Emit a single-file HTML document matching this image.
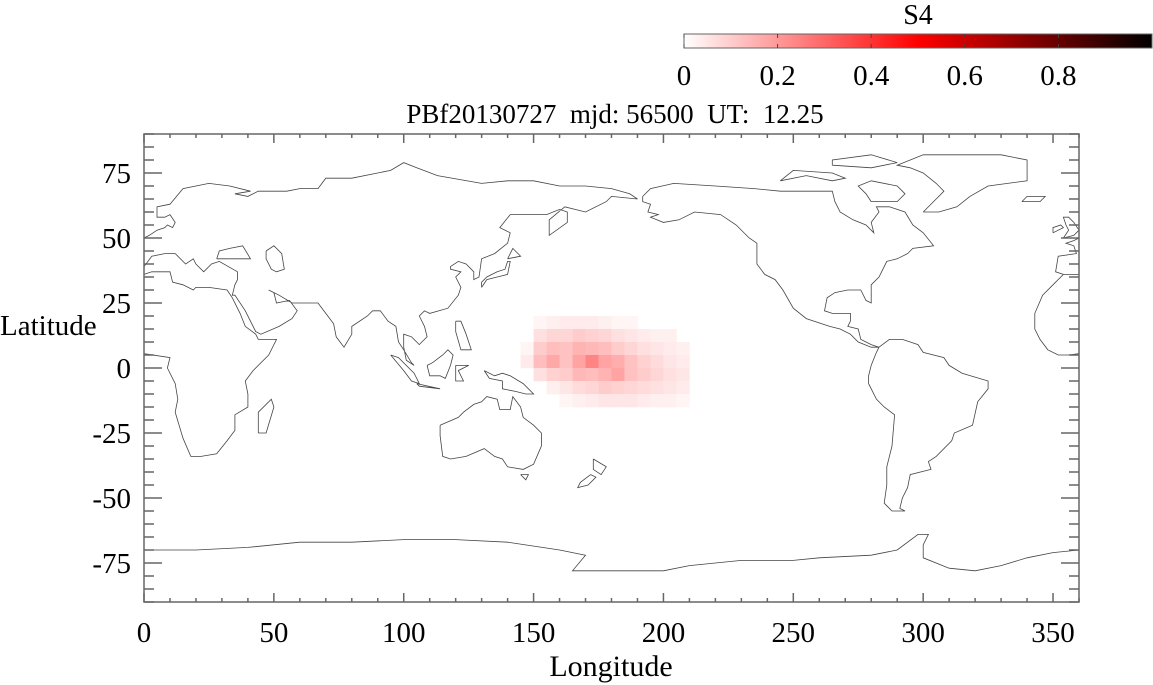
<!DOCTYPE html>
<html><head><meta charset="utf-8"><style>
html,body{margin:0;padding:0;background:#fff;}
svg{display:block;font-family:"Liberation Serif",serif;}
</style></head><body>
<svg id="chart" width="1153" height="685" viewBox="0 0 1153 685" xmlns="http://www.w3.org/2000/svg">
<defs><linearGradient id="cb" x1="0" x2="1" y1="0" y2="0">
<stop offset="0" stop-color="#fff"/><stop offset="0.5" stop-color="#f00"/><stop offset="1" stop-color="#000"/></linearGradient></defs>
<g id="heat"></g>
<g id="coast" fill="none" stroke="#444" stroke-width="0.8"></g>
<g id="axes"></g>
<text x="615" y="123" font-size="27" text-anchor="middle" xml:space="preserve" style="white-space:pre">PBf20130727  mjd: 56500  UT:  12.25</text>
<text x="611" y="676" font-size="30" text-anchor="middle">Longitude</text>
<text x="0" y="335" font-size="29">Latitude</text>
<g>
<rect x="684" y="34" width="468" height="14" fill="url(#cb)" stroke="#666" stroke-width="1"/>
<text x="918" y="24" font-size="28" text-anchor="middle">S4</text>
<g id="cbticks"></g>
</g>
</svg>
<script>
const lonTicks=[0,50,100,150,200,250,300,350];
const latTicks=[75,50,25,0,-25,-50,-75];
const cbTicks=[0,0.2,0.4,0.6,0.8];
const heatLons=[145,150,155,160,165,170,175,180,185,190,195,200,205];
const heatLats=[20,15,10,5,0,-5,-10];
const heatRow0=[0,.02,.03,.04,.04,.04,.03,.02,.02,0,0,0,0];
const heatRow1=[0,.06,.08,.08,.10,.09,.08,.06,.05,.04,.03,.03,0];
const heatRow2=[.02,.10,.13,.12,.15,.14,.13,.10,.08,.06,.05,.04,.03];
const heatRow3=[.04,.13,.17,.12,.18,.24,.18,.16,.12,.09,.07,.05,.04];
const heatRow4=[0,.06,.09,.10,.14,.13,.15,.18,.12,.10,.08,.06,.05];
const heatRow5=[0,0,.03,.05,.07,.08,.10,.09,.08,.07,.06,.05,.04];
const heatRow6=[0,0,0,.02,.03,.04,.05,.05,.05,.04,.03,.03,.02];
const heatRows=[heatRow0,heatRow1,heatRow2,heatRow3,heatRow4,heatRow5,heatRow6];

const NS="http://www.w3.org/2000/svg";
const L=144,R=1079,T=134,B=602;
const sx=v=>L+(v/360)*(R-L);
const sy=v=>T+(90-v)/180*(B-T);
const cbx=v=>684+v*468;
function col(v){v=Math.max(0,Math.min(1,v));let r,g;
 if(v<0.5){r=255;g=Math.round(255*(1-2*v));return `rgb(${r},${g},${g})`;}
 r=Math.round(255*(2-2*v));return `rgb(${r},0,0)`;}
function mk(tag,attrs,parent){const e=document.createElementNS(NS,tag);for(const k in attrs)e.setAttribute(k,attrs[k]);parent.appendChild(e);return e;}

const heat=document.getElementById('heat');
heatRows.forEach((row,i)=>row.forEach((v,j)=>{
 if(v<=0)return;
 const lon=heatLons[j],lat=heatLats[i];
 const r=mk('rect',{x:sx(lon),y:sy(lat),width:sx(lon+5)-sx(lon)+0.3,height:sy(lat-5)-sy(lat)+0.3,fill:col(v)},heat);
 
 
}));

const coasts=[
[[0,5.5],[10,4],[9,0],[12,-6],[13,-12],[12,-17],[15,-27],[18,-34],[22,-34],[28,-33],[32,-28],[35,-24],[35,-18],[40,-15],[40,-10],[39,-5],[42,-1],[48,5],[51,11],[44,11],[43,13],[39,16],[37,21],[34,27],[32,30],[25,31],[20,31],[19,30],[15,32],[11,33],[10,37],[3,37],[0,36]],
[[360,36],[354,36],[350,32],[346,28],[343,21],[343,15],[345,11],[348,7],[352,5],[356,5],[360,5.5]],
[[44,-25],[47,-25],[50,-15],[49,-12],[44,-17],[44,-25]],
[[0,39],[3,43],[8,44],[12,44],[16,40],[19,42],[20,40],[23,37],[26,40],[29,41],[36,37],[36,34],[35,32],[34,28],[35,28],[39,22],[43,14],[45,13],[52,16],[57,19],[59,22],[56,26],[51,25],[50,29],[48,30],[52,28],[57,25],[62,25],[67,25],[70,21],[73,17],[74,12],[77,8],[80,13],[80,16],[86,20],[88,22],[91,22],[94,18],[97,16],[98,10],[100,7],[103,2],[104,1],[101,3],[100,8],[100,13],[103,12],[106,9],[109,12],[108,16],[106,20],[108,22],[110,21],[117,23],[121,28],[122,31],[120,35],[122,37],[118,38],[118,39],[121,41],[124,40],[127,37],[127,34],[129,35],[130,42],[135,44],[140,48],[141,52],[137,54],[141,59],[150,59],[155,59],[160,61],[163,60],[163,56],[156,51],[156,57],[162,62],[170,60],[178,64],[180,66],[190,65],[187,67],[180,69],[170,70],[160,70],[150,72],[140,72],[130,71],[113,74],[105,77],[100,79],[95,76],[80,73],[70,73],[67,69],[60,69],[55,68],[44,68],[40,66],[35,67],[41,68],[33,70],[25,71],[15,69],[10,63],[5,62],[5,58],[8,58],[10,59],[12,56],[11,54],[9,55],[8,54],[5,53],[2,51],[0,50]],
[[360,50],[358,49],[355,48],[358,47],[359,44],[352,43],[351,37],[354,36]],
[[28,42],[29,45],[33,46],[38,47],[41,42],[36,42],[28,42]],
[[47,45],[50,47],[53,44],[54,38],[51,37],[49,38],[47,42],[47,45]],
[[354,50],[358,51],[360,53],[358,56],[356,58],[354,58],[355,55],[356,53],[354,50]],
[[350,52],[354,54],[353,55],[350,54],[350,52]],
[[130,31],[132,34],[136,35],[140,36],[141,41],[140,41],[139,38],[136,37],[132,35],[130,33],[130,31]],
[[140,42],[145,43],[142,46],[140,42]],
[[109,1],[110,-3],[114,-3],[116,-4],[118,1],[119,5],[117,7],[115,5],[111,2],[109,1]],
[[95,5],[98,4],[104,-2],[106,-6],[103,-5],[100,-1],[95,5]],
[[105,-6],[114,-8],[106,-7],[105,-6]],
[[120,1],[125,1],[121,-1],[123,-5],[120,-5],[120,1]],
[[120,18],[122,18],[124,13],[126,7],[122,7],[120,14],[120,18]],
[[131,-1],[135,-3],[138,-2],[141,-3],[146,-6],[148,-8],[150,-10],[147,-10],[143,-9],[138,-8],[138,-5],[133,-4],[131,-1]],
[[114,-22],[114,-26],[115,-34],[118,-35],[124,-34],[131,-31],[135,-34],[138,-35],[140,-38],[146,-39],[150,-37],[153,-30],[153,-25],[150,-22],[146,-19],[145,-15],[142,-11],[141,-16],[137,-16],[136,-12],[132,-11],[130,-13],[127,-14],[123,-17],[121,-19],[114,-22]],
[[145,-41],[148,-41],[147,-43],[145,-41]],
[[173,-35],[178,-38],[176,-41],[173,-39],[173,-35]],
[[172,-41],[174,-42],[171,-45],[167,-46],[168,-44],[172,-41]],
[[192,66],[195,69],[204,71],[220,70],[235,69],[245,68],[255,68],[265,68],[266,64],[268,60],[273,57],[278,55],[281,52],[280,56],[283,60],[282,62],[287,62],[293,60],[296,55],[300,52],[304,47],[296,46],[294,44],[290,42],[286,41],[284,37],[283,35],[280,32],[280,27],[280,25],[278,26],[276,30],[271,30],[266,29],[263,27],[262,22],[265,21],[268,21],[272,21],[272,18],[271,16],[275,15],[276,11],[280,9],[283,8],[280,8],[275,10],[272,13],[268,15],[264,16],[255,19],[250,23],[246,30],[243,34],[239,36],[236,40],[236,44],[236,48],[233,50],[228,55],[222,59],[212,60],[206,57],[200,56],[195,58],[198,59],[194,60],[195,63],[192,64],[192,66]],
[[283,8],[287,11],[292,11],[298,9],[300,6],[308,4],[310,1],[315,-2],[325,-5],[325,-8],[321,-13],[319,-22],[312,-25],[311,-28],[305,-34],[302,-36],[303,-39],[295,-41],[294,-46],[292,-50],[291,-54],[293,-55],[288,-55],[285,-52],[286,-45],[286,-38],[288,-30],[289,-18],[285,-15],[282,-12],[279,-6],[279,-3],[280,1],[282,6],[283,8]],
[[300,60],[306,60],[313,62],[318,66],[325,70],[340,72],[340,80],[330,82],[300,82],[290,78],[295,77],[300,75],[305,71],[308,68],[305,65],[300,60]],
[[245,72],[255,74],[265,72],[270,73],[265,75],[250,76],[245,72]],
[[280,64],[290,64],[293,67],[290,70],[280,72],[275,70],[278,67],[280,64]],
[[265,78],[280,77],[290,79],[280,82],[265,80],[265,78]],
[[338,64],[345,64],[347,66],[340,66],[338,64]],
[[0,-70],[20,-70],[40,-69],[60,-67],[80,-67],[100,-66],[120,-66],[140,-67],[160,-70],[170,-72],[165,-78],[180,-78],[200,-78],[210,-76],[230,-74],[250,-74],[260,-73],[280,-72],[290,-70],[298,-64],[302,-64],[300,-68],[300,-73],[310,-77],[320,-78],[330,-76],[340,-73],[350,-71],[360,-70]]
];
const coast=document.getElementById('coast');
coasts.forEach(c=>{
 const p=mk('polyline',{points:c.map(q=>sx(q[0]).toFixed(1)+','+sy(q[1]).toFixed(1)).join(' ')},coast);
 
 
});

const ax=document.getElementById('axes');
const frame=mk('rect',{x:L,y:T,width:R-L,height:B-T,fill:'none',stroke:'#666','stroke-width':1.5},ax);


for(let v=0;v<=360;v+=10){const x=sx(v);const len=v%50===0?9:4;
 mk('line',{x1:x,x2:x,y1:B,y2:B-len,stroke:'#666','stroke-width':1.5},ax);
 mk('line',{x1:x,x2:x,y1:T,y2:T+len,stroke:'#666','stroke-width':1.5},ax);}
for(let v=-90;v<=90;v+=5){const y=sy(v);const len=v%25===0?18:10;
 mk('line',{x1:L,x2:L+len,y1:y,y2:y,stroke:'#666','stroke-width':1.5},ax);
 mk('line',{x1:R,x2:R-len,y1:y,y2:y,stroke:'#666','stroke-width':1.5},ax);}
lonTicks.forEach(v=>{const t=mk('text',{x:sx(v),y:642,'font-size':29,'text-anchor':'middle'},ax);t.textContent=v;
 
 });
latTicks.forEach(v=>{const t=mk('text',{x:131,y:sy(v)+10,'font-size':29,'text-anchor':'end'},ax);t.textContent=v;
 
 });
const cbg=document.getElementById('cbticks');
cbTicks.forEach(v=>{const x=cbx(v);
 mk('line',{x1:x,x2:x,y1:34,y2:38,stroke:'#444'},cbg);mk('line',{x1:x,x2:x,y1:48,y2:44,stroke:'#444'},cbg);
 const t=mk('text',{x:x,y:85,'font-size':29,'text-anchor':'middle'},cbg);t.textContent=v;
 
 });
</script>
</body></html>
